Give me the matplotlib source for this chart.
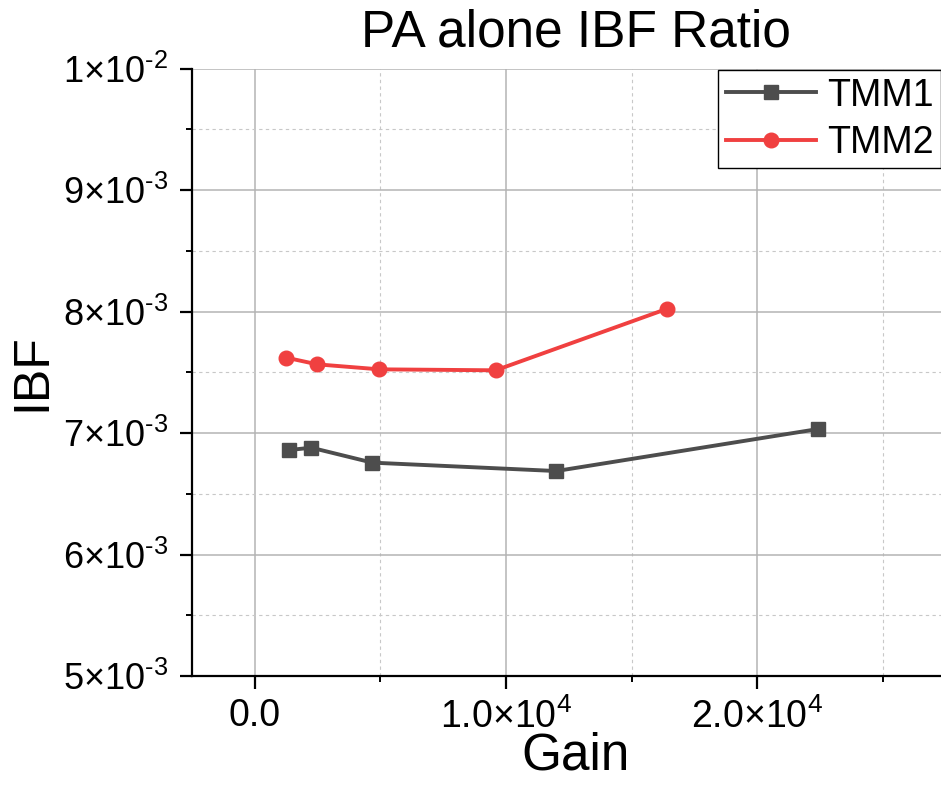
import matplotlib as mpl
mpl.use('Agg')
import matplotlib.pyplot as plt
from matplotlib.ticker import FixedLocator, FuncFormatter, MultipleLocator

plt.rcParams['font.family'] = ['Liberation Sans', 'DejaVu Sans']
plt.rcParams['mathtext.fontset'] = 'custom'
plt.rcParams['mathtext.rm'] = 'Liberation Sans'
plt.rcParams['mathtext.it'] = 'Liberation Sans'
plt.rcParams['mathtext.default'] = 'regular'

# data
tmm1_gain = [1373, 2249, 4678, 12002, 22432]
tmm1_ibf = [6.860e-3, 6.879e-3, 6.756e-3, 6.687e-3, 7.033e-3]
tmm2_gain = [1254, 2488, 4956, 9586, 16394]
tmm2_ibf = [7.620e-3, 7.565e-3, 7.524e-3, 7.516e-3, 8.021e-3]

x_ticks = [0, 1e4, 2e4]
x_labels = ['0.0', r'$1.0{\times}10^{4}$', r'$2.0{\times}10^{4}$']
y_ticks = [5e-3, 6e-3, 7e-3, 8e-3, 9e-3, 1e-2]
y_labels = [r'$5{\times}10^{\text{-}3}$', r'$6{\times}10^{\text{-}3}$', r'$7{\times}10^{\text{-}3}$',
            r'$8{\times}10^{\text{-}3}$', r'$9{\times}10^{\text{-}3}$', r'$1{\times}10^{\text{-}2}$']

fig = plt.figure(figsize=(9.41, 7.89), dpi=100)
ax = fig.add_axes([192 / 941, 113 / 789, 768 / 941, 607.5 / 789])

ax.plot(tmm1_gain, tmm1_ibf, '-s', color='#4d4d4d', lw=2.8, ms=9.5, label='TMM1', zorder=3)
ax.plot(tmm2_gain, tmm2_ibf, '-o', color='#f04040', lw=2.8, ms=10.5, label='TMM2', zorder=3)

ax.set_xlim(-2500, 28070)
ax.set_ylim(5e-3, 1e-2)

ax.xaxis.set_major_locator(FixedLocator(x_ticks))
ax.xaxis.set_major_formatter(FuncFormatter(lambda v, p: x_labels[p] if p is not None and p < len(x_labels) else ''))
ax.xaxis.set_minor_locator(MultipleLocator(5000))
ax.yaxis.set_major_locator(FixedLocator(y_ticks))
ax.yaxis.set_major_formatter(FuncFormatter(lambda v, p: y_labels[p] if p is not None and p < len(y_labels) else ''))
ax.yaxis.set_minor_locator(MultipleLocator(5e-4))

ax.grid(which='major', color='#b4b4b4', lw=1.1, ls='-')
ax.grid(which='minor', color='#c8c8c8', lw=0.8, ls=(0, (3, 3)))
ax.set_axisbelow(True)

for s in ['top', 'right']:
    ax.spines[s].set_visible(False)
for s in ['left', 'bottom']:
    ax.spines[s].set_linewidth(1.6)
    ax.spines[s].set_color('black')

ax.tick_params(which='major', direction='out', length=9, width=1.6, labelsize=26, pad=8)
ax.tick_params(which='minor', direction='out', length=4.5, width=1.4)
ax.tick_params(axis='x', which='major', labelsize=27, pad=7)

ax.set_title('PA alone IBF Ratio', fontsize=37, pad=16)
ax.set_xlabel('Gain', fontsize=37, labelpad=-3)
ax.set_ylabel('IBF', fontsize=36, labelpad=6)

leg = ax.legend(loc='upper left', bbox_to_anchor=(718 / 941, 1 - 70 / 789),
                bbox_transform=fig.transFigure, fontsize=27, frameon=True, fancybox=False,
                edgecolor='black', framealpha=1, borderaxespad=0, borderpad=0.2,
                handlelength=2.4, handletextpad=0.3, labelspacing=0.3, numpoints=1)
leg.get_frame().set_linewidth(1.0)

fig.savefig('out.png', dpi=100)
plt.close()
